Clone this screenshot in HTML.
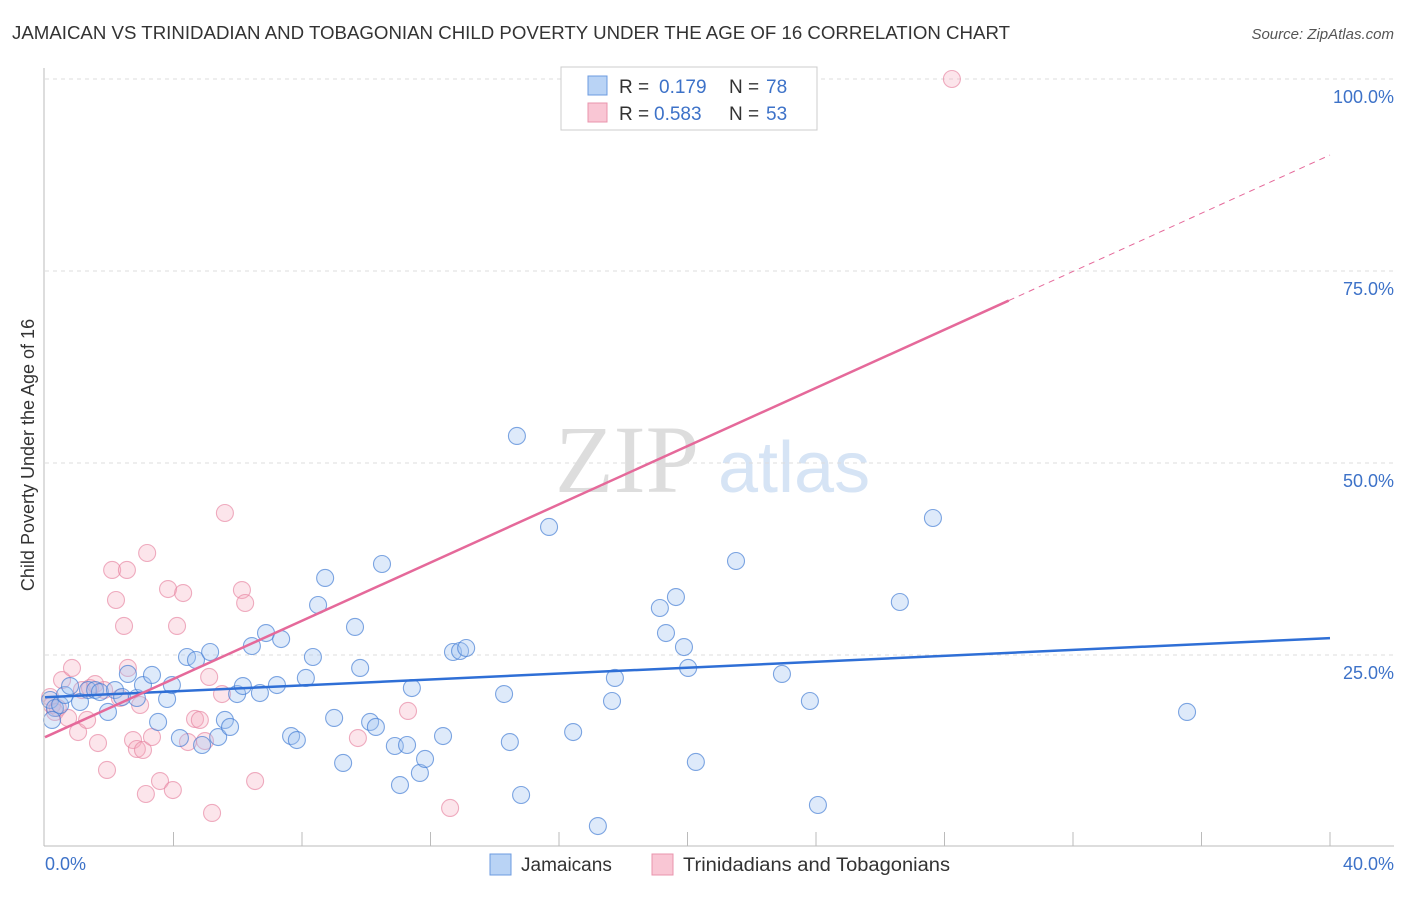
<!DOCTYPE html>
<html><head><meta charset="utf-8"><style>
body{margin:0;background:#fff;font-family:"Liberation Sans",sans-serif}
</style></head><body>
<svg id="c" width="1406" height="892" xmlns="http://www.w3.org/2000/svg">
<text x="12" y="39" font-size="18" fill="#333" textLength="998" lengthAdjust="spacingAndGlyphs">JAMAICAN VS TRINIDADIAN AND TOBAGONIAN CHILD POVERTY UNDER THE AGE OF 16 CORRELATION CHART</text>
<text x="1394" y="39" font-size="15" fill="#555" font-style="italic" text-anchor="end">Source: ZipAtlas.com</text>
<text x="555" y="492" font-size="96" fill="#ddd" font-family="Liberation Serif">ZIP</text>
<text x="718" y="492" font-size="72" fill="#d6e4f5">atlas</text>
<text transform="translate(34,455) rotate(-90)" font-size="18" fill="#333" text-anchor="middle">Child Poverty Under the Age of 16</text>
<g id="grid"></g><g id="marks"></g>
<line x1="44" y1="68" x2="44" y2="846" stroke="#bbb"/>
<line x1="44" y1="846" x2="1394" y2="846" stroke="#bbb"/>
<text x="45" y="870" font-size="18" fill="#3d72c8">0.0%</text>
<text x="1394" y="870" font-size="18" fill="#3d72c8" text-anchor="end">40.0%</text>
<g>
<rect x="561" y="67" width="256" height="63" fill="#fff" stroke="#ccc"/>
<rect x="588" y="76" width="19" height="19" fill="#b9d3f5" stroke="#6c9be0"/>
<rect x="588" y="103" width="19" height="19" fill="#f9c6d4" stroke="#e994ad"/>
<text x="619" y="93" font-size="19" fill="#333">R = </text><text x="659" y="93" font-size="19" fill="#3d72c8">0.179</text>
<text x="729" y="93" font-size="19" fill="#333">N = </text><text x="766" y="93" font-size="19" fill="#3d72c8">78</text>
<text x="619" y="120" font-size="19" fill="#333">R = </text><text x="654" y="120" font-size="19" fill="#3d72c8">0.583</text>
<text x="729" y="120" font-size="19" fill="#333">N = </text><text x="766" y="120" font-size="19" fill="#3d72c8">53</text>
</g>
<g>
<rect x="490" y="854" width="21" height="21" fill="#b9d3f5" stroke="#6c9be0"/>
<text x="521" y="871" font-size="19" fill="#333">Jamaicans</text>
<rect x="652" y="854" width="21" height="21" fill="#f9c6d4" stroke="#e994ad"/>
<text x="683" y="871" font-size="19" fill="#333" textLength="267" lengthAdjust="spacingAndGlyphs">Trinidadians and Tobagonians</text>
</g>
</svg>
<script>
const yTicks=[25,50,75,100];
const yTickLabels=["25.0%","50.0%","75.0%","100.0%"];
const xTicks=[4,8,12,16,20,24,28,32,36,40];
const bluePx=[[50,700],[55,708],[52,720],[60,705],[65,695],[70,686],[80,702],[88,690],[95,690],[100,692],[108,712],[115,690],[122,697],[128,674],[137,698],[143,685],[152,675],[158,722],[167,699],[172,685],[180,738],[187,657],[196,660],[202,745],[210,652],[218,737],[225,720],[230,727],[237,694],[243,686],[252,646],[260,693],[266,633],[277,685],[281,639],[291,736],[297,740],[306,678],[313,657],[318,605],[325,578],[334,718],[343,763],[355,627],[360,668],[370,722],[376,727],[382,564],[395,746],[400,785],[407,745],[412,688],[420,773],[425,759],[443,736],[453,652],[460,651],[466,648],[504,694],[510,742],[517,436],[521,795],[549,527],[573,732],[598,826],[612,701],[615,678],[660,608],[666,633],[676,597],[684,647],[688,668],[696,762],[736,561],[782,674],[810,701],[818,805],[900,602],[933,518],[1187,712]];
const pinkPx=[[50,697],[52,705],[55,712],[58,708],[62,680],[68,718],[72,668],[78,732],[82,690],[87,720],[90,688],[95,684],[98,743],[104,690],[107,770],[112,570],[116,600],[120,698],[124,626],[127,570],[128,668],[133,740],[137,749],[140,705],[143,750],[146,794],[147,553],[152,737],[160,781],[168,589],[173,790],[177,626],[183,593],[188,742],[195,719],[200,720],[205,741],[209,677],[212,813],[222,694],[225,513],[242,590],[245,603],[255,781],[358,738],[408,711],[450,808],[952,79]];
const blueX=bluePx.map(p=>+((p[0]-45)/32.125).toFixed(2));
const blueY=bluePx.map(p=>+((847-p[1])/7.68).toFixed(2));
const pinkX=pinkPx.map(p=>+((p[0]-45)/32.125).toFixed(2));
const pinkY=pinkPx.map(p=>+((847-p[1])/7.68).toFixed(2));
const blueTrend=[19.5,27.2];
const pinkTrend=[14.3,90.1];
const pinkSolidEnd=30;
const sx=v=>45+v*32.125, sy=v=>847-v*7.68;
const NS="http://www.w3.org/2000/svg";
const grid=document.getElementById('grid'), marks=document.getElementById('marks');
function mk(tag,at,parent){const e=document.createElementNS(NS,tag);for(const k in at)e.setAttribute(k,at[k]);parent.appendChild(e);return e;}
yTicks.forEach((t,i)=>{
 const l=mk('line',{x1:45,x2:1394,y1:sy(t),y2:sy(t),stroke:'#ddd','stroke-dasharray':'4,4'},grid);
 
 
 const tx=mk('text',{x:1394,y:sy(t)+24,'font-size':18,fill:'#3d72c8','text-anchor':'end'},grid);
 tx.textContent=yTickLabels[i];
 
 
});
xTicks.forEach(t=>{
 const l=mk('line',{x1:sx(t),x2:sx(t),y1:832,y2:846,stroke:'#bbb'},grid);
 
 
});
function dots(xs,ys,fill,stroke,name){xs.forEach((x,i)=>{
 const c=mk('circle',{cx:sx(x),cy:sy(ys[i]),r:8.5,fill:fill,stroke:stroke,'stroke-width':1.1},marks);
 
 
});}
dots(pinkX,pinkY,'rgba(245,170,190,0.3)','rgba(230,130,160,0.65)','trinidadian-point');
dots(blueX,blueY,'rgba(160,195,240,0.35)','rgba(60,120,210,0.65)','jamaican-point');
let l=mk('line',{x1:sx(0),y1:sy(blueTrend[0]),x2:sx(40),y2:sy(blueTrend[1]),stroke:'#2f6fd6','stroke-width':2.5},marks);


const py=x=>pinkTrend[0]+(pinkTrend[1]-pinkTrend[0])*x/40;
l=mk('line',{x1:sx(0),y1:sy(py(0)),x2:sx(pinkSolidEnd),y2:sy(py(pinkSolidEnd)),stroke:'#e5699a','stroke-width':2.5},marks);


l=mk('line',{x1:sx(pinkSolidEnd),y1:sy(py(pinkSolidEnd)),x2:sx(40),y2:sy(py(40)),stroke:'#e5699a','stroke-width':1,'stroke-dasharray':'6,5'},marks);


</script>
</body></html>
